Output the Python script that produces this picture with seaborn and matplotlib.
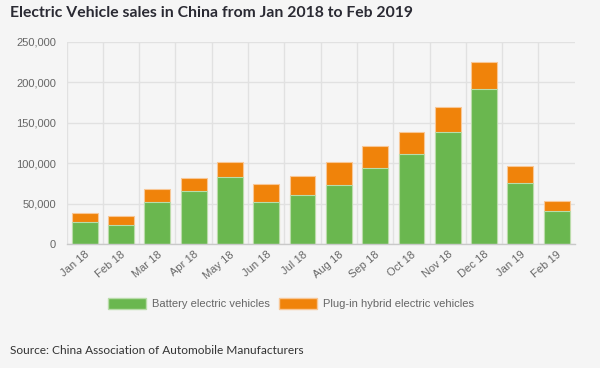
import numpy as np
import pandas as pd
import seaborn as sns
import matplotlib.pyplot as plt
from matplotlib.ticker import FuncFormatter, FixedLocator
from matplotlib.patches import Patch

# 数据
months = ['Jan 18', 'Feb 18', 'Mar 18', 'Apr 18', 'May 18', 'Jun 18', 'Jul 18',
          'Aug 18', 'Sep 18', 'Oct 18', 'Nov 18', 'Dec 18', 'Jan 19', 'Feb 19']
bev = [26900, 23500, 52000, 65300, 82600, 52000, 60300,
       72700, 94600, 111600, 138000, 192100, 75200, 40500]
phev = [11500, 10800, 16200, 16900, 19400, 21900, 24000,
        28500, 26400, 26800, 31400, 32700, 21500, 12800]

df = pd.DataFrame({'month': months, 'bev': bev, 'phev': phev})
df['total'] = df['bev'] + df['phev']

bg = '#f5f5f5'
green = '#6ab74f'
orange = '#f0830a'
grid_c = '#e1e1e1'
text_c = '#666666'

sns.set_style('white')
plt.rcParams['font.family'] = ['Liberation Sans', 'DejaVu Sans']

fig = plt.figure(figsize=(6, 3.68), dpi=100, facecolor=bg)
ax = fig.add_axes([0.111, 0.337, 0.847, 0.549], facecolor=bg)

# 先画总数（橙色），再画纯电（绿色）叠在上面
sns.barplot(data=df, x='month', y='total', color=orange, saturation=1, width=0.71,
            edgecolor='#f8c796', linewidth=0.8, ax=ax, label='_nolegend_')
sns.barplot(data=df, x='month', y='bev', color=green, saturation=1, width=0.71,
            edgecolor='#b9dcaa', linewidth=0.8, ax=ax, label='_nolegend_')

ax.set_xlim(-0.5, 13.5)
ax.set_ylim(0, 250000)
ax.set_yticks(np.arange(0, 250001, 50000))
ax.yaxis.set_major_formatter(FuncFormatter(lambda v, p: f'{int(v):,}'))
ax.set_xlabel('')
ax.set_ylabel('')

# 网格线
ax.xaxis.set_minor_locator(FixedLocator(np.arange(-0.5, 13, 1)))
ax.grid(True, which='minor', axis='x', color=grid_c, linewidth=1)
ax.grid(True, which='major', axis='y', color=grid_c, linewidth=1)
ax.set_axisbelow(True)
for s in ['top', 'right', 'left']:
    ax.spines[s].set_visible(False)
ax.spines['bottom'].set_color('#c9c9c9')
ax.spines['bottom'].set_linewidth(1)

ax.tick_params(axis='x', which='major', length=0, pad=4, labelsize=8, labelcolor=text_c)
ax.tick_params(axis='x', which='minor', length=6, color=grid_c, width=1)
ax.tick_params(axis='y', which='major', length=6, color=grid_c, width=1, pad=1.5,
               labelsize=8, labelcolor=text_c)
plt.setp(ax.get_xticklabels(), rotation=40, ha='right', rotation_mode='anchor')

# 图例
handles = [Patch(facecolor=green, edgecolor='#b9dcaa', label='Battery electric vehicles'),
           Patch(facecolor=orange, edgecolor='#f8c796', label='Plug-in hybrid electric vehicles')]
fig.legend(handles=handles, loc='center', bbox_to_anchor=(0.485, 0.175), ncol=2,
           frameon=False, fontsize=8, labelcolor=text_c, handlelength=3.4,
           handleheight=1.1, columnspacing=0.9, handletextpad=0.5)

fig.text(0.017, 0.965, 'Electric Vehicle sales in China from Jan 2018 to Feb 2019',
         family='Lato', fontsize=11.3, fontweight='bold', color='#2a2a33', va='center')
fig.text(0.017, 0.048, 'Source: China Association of Automobile Manufacturers',
         family='Lato', fontsize=8.6, color='#333333', va='center')

fig.savefig('out.png', dpi=100, facecolor=bg)
